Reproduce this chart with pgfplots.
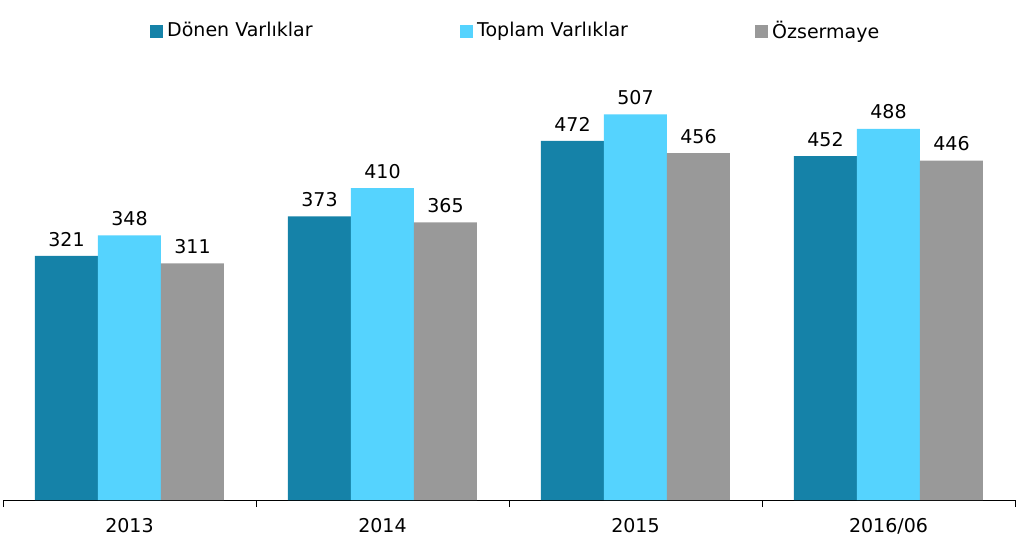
\documentclass[border=0pt]{standalone}
\usepackage{fontspec}
\setmainfont{DejaVu Sans}
\usepackage{pgfplots}
\pgfplotsset{compat=1.18}
\definecolor{donen}{HTML}{1582A8}
\definecolor{toplam}{HTML}{55D3FE}
\definecolor{ozs}{HTML}{999999}
\begin{document}
\fontsize{19}{23}\selectfont
\begin{tikzpicture}
\useasboundingbox (-3pt,-50pt) rectangle (1021pt,500pt);
\begin{axis}[
  at={(0,0)}, anchor=south west,
  scale only axis, width=1012pt, height=426pt,
  ybar=0pt, bar width=63pt,
  xmin=-0.5, xmax=3.5, ymin=0, ymax=560,
  axis x line*=bottom, axis y line=none,
  xtick={0,1,2,3},
  xticklabels={2013,2014,2015,2016/06},
  major tick length=0pt,
  extra x ticks={-0.5,0.5,1.5,2.5,3.5},
  extra x tick labels={},
  extra x tick style={major tick length=7pt, tick align=outside, tick style={black, line width=0.8pt}},
  x axis line style={black, line width=0.8pt, -},
  xticklabel style={yshift=-12pt},
  /pgf/number format/assume math mode=true,
  ticklabel style={font=\fontsize{19}{23}\selectfont},
  nodes near coords,
  every node near coord/.append style={font=\fontsize{19}{23}\selectfont, black, yshift=3pt},
  legend columns=3,
  legend style={at={(0,1)}, anchor=west, xshift=147pt, yshift=43pt, draw=none,
    font=\fontsize{19}{23}\selectfont, inner sep=0pt,
    /tikz/every even column/.append style={column sep=0pt},
    nodes={inner sep=2pt}},
  legend image code/.code={\fill[#1] (0pt,-6.5pt) rectangle (13pt,6.5pt);},
]
\addplot[fill=donen, draw=none] coordinates {(0,321) (1,373) (2,472) (3,452)};
\addplot[fill=toplam, draw=none] coordinates {(0,348) (1,410) (2,507) (3,488)};
\addplot[fill=ozs, draw=none] coordinates {(0,311) (1,365) (2,456) (3,446)};
\legend{\makebox[293pt][l]{\hspace{2pt}Dönen Varlıklar}, \makebox[278pt][l]{\hspace{2pt}Toplam Varlıklar}, \hspace{2pt}Özsermaye}
\end{axis}
\end{tikzpicture}
\end{document}
